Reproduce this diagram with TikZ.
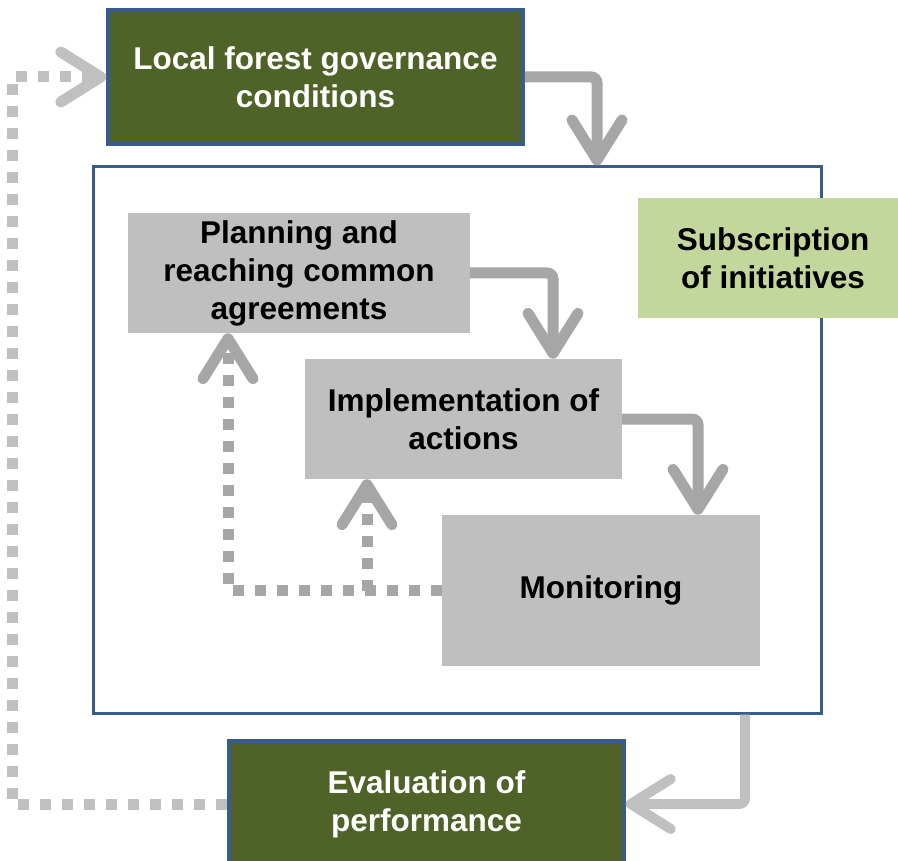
\documentclass[tikz,border=0pt]{standalone}
\usepackage{fontspec}
\setmainfont{Liberation Sans}
\usetikzlibrary{arrows.meta}

\definecolor{darkolive}{HTML}{4F6228}
\definecolor{frameblue}{HTML}{385D8A}
\definecolor{boxgray}{HTML}{BFBFBF}
\definecolor{arrowgray}{HTML}{A6A6A6}
\definecolor{lightarrow}{HTML}{C0C0C0}
\definecolor{palegreen}{HTML}{C3D69B}

\tikzset{
  label font/.style={font=\bfseries\fontsize{31.5}{38}\selectfont, align=center},
  stagebox/.style={label font, fill=darkolive, draw=frameblue, line width=3.5pt,
    text=white, inner sep=0pt},
  stepbox/.style={label font, fill=boxgray, draw=none, text=black, inner sep=0pt},
  notebox/.style={label font, fill=palegreen, draw=none, text=black, inner sep=0pt},
  chevron/.style={-{Straight Barb[length=40pt, width=50pt, round]}},
  flow/.style={chevron, draw=arrowgray, line width=11pt, rounded corners=6pt},
  lightflow/.style={chevron, draw=lightarrow, line width=10pt, rounded corners=6pt},
  feedback/.style={chevron, draw=arrowgray, line width=11pt, line cap=butt,
    dash pattern=on 11pt off 11pt},
  lightfeedback/.style={chevron, draw=lightarrow, line width=11pt, line cap=butt,
    dash pattern=on 11pt off 11pt},
}

\begin{document}
\begin{tikzpicture}[x=1pt, y=-1pt]
  \useasboundingbox (0,0) rectangle (898,861);
  \clip (0,0) rectangle (898,861);

  % outer process frame
  \node[draw=frameblue, line width=3pt, minimum width=728pt, minimum height=546pt,
        inner sep=0pt] (frame) at (457,440) {};

  % boxes
  \node[stagebox, minimum width=415pt, minimum height=134pt] (lfg) at (315.5,77)
    {Local forest governance\\conditions};
  \node[stepbox, minimum width=342pt, minimum height=120pt] (plan) at (299,273)
    {Planning and\\reaching common\\agreements};
  \node[stepbox, minimum width=317pt, minimum height=120pt] (impl) at (463.5,419)
    {Implementation of\\actions};
  \node[stepbox, minimum width=318pt, minimum height=151pt] (mon) at (601,590.5)
    {Monitoring};
  \node[notebox, minimum width=270pt, minimum height=120pt] (subs) at (773,258)
    {Subscription\\of initiatives};
  \node[stagebox, minimum width=395pt, minimum height=126pt] (eval) at (426.5,804)
    {Evaluation of\\performance};

  % bend points of the connectors
  \coordinate (branch) at (367,590.5);
  \coordinate (loopcorner) at (12,77);

  % main cycle
  \draw[flow] (lfg.east) -| ([xshift=140pt]frame.north);
  \draw[flow] (plan.east) -| ([xshift=89.5pt]impl.north);
  \draw[flow] (impl.east) -| ([xshift=97pt]mon.north);
  \draw[lightflow] ([xshift=288pt]frame.south) |- (eval.east);

  % feedback loops
  \draw[feedback] (mon.west) -| ([xshift=-71pt]plan.south);
  \draw[feedback] (branch) -- (branch |- impl.south);
  \draw[lightfeedback] (eval.west) -| (loopcorner) -- (lfg.west);
\end{tikzpicture}
\end{document}
